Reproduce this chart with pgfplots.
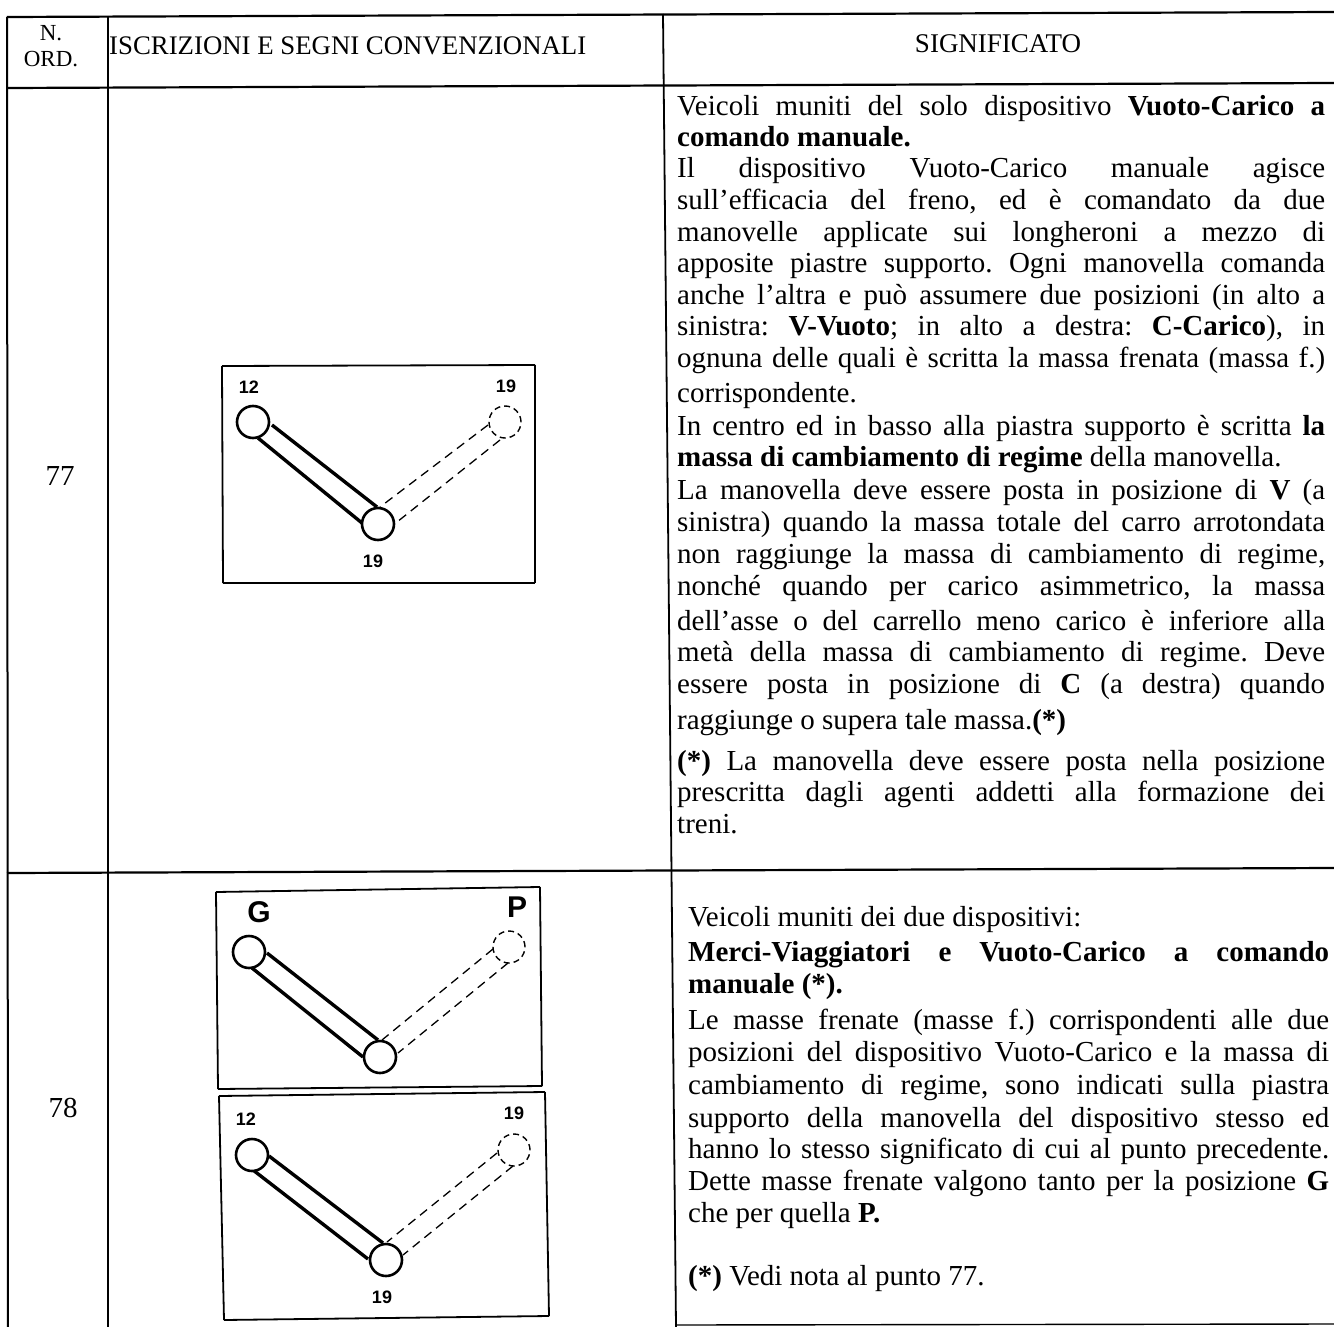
\documentclass[border=0pt]{standalone}
\usepackage{pgfplots}
\pgfplotsset{compat=1.18}
\usepackage{fontspec}
\setmainfont{Liberation Serif}
\newfontfamily\hv{Liberation Sans}
\frenchspacing
\newcommand{\ap}{\char39 }
\newcommand{\body}{\frenchspacing\fontsize{29}{32}\selectfont}
\newcommand{\JL}[4]{\node[anchor=base west,inner sep=0pt] at (axis cs:#1,#2) {\body\makebox[#3pt][s]{#4}};}
\newcommand{\PL}[3]{\node[anchor=base west,inner sep=0pt] at (axis cs:#1,#2) {\body #3};}
\newcommand{\seg}[5]{\addplot[black,line width=#5pt,forget plot] coordinates {(#1,#2) (#3,#4)};}
\newcommand{\dseg}[4]{\addplot[black,line width=1.3pt,dash pattern=on 9pt off 6pt,forget plot] coordinates {(#1,#2) (#3,#4)};}
\newcommand{\ring}[2]{\addplot[only marks,mark=*,mark size=16pt,mark options={fill=white,draw=black,line width=2.6pt},forget plot] coordinates {(#1,#2)};}
\newcommand{\dring}[2]{\addplot[only marks,mark=*,mark size=16pt,mark options={fill=white,draw=black,line width=1.4pt,dash pattern=on 6pt off 4pt},forget plot] coordinates {(#1,#2)};}
\newcommand{\lab}[4]{\node[inner sep=0pt] at (axis cs:#1,#2) {\hv\bfseries\fontsize{#3}{#3}\selectfont #4};}
\begin{document}
\begin{tikzpicture}
\begin{axis}[hide axis,scale only axis,width=1334pt,height=1327pt,
 xmin=0,xmax=1334,ymin=0,ymax=1327,y dir=reverse]
\addplot[white,forget plot] coordinates {(0,0) (1334,1327)};
% table rules
\seg{7}{17}{1334}{12}{2.2}
\seg{7}{88}{1334}{83}{2.2}
\seg{7}{873}{1334}{868}{2.2}
\seg{676}{1325}{1334}{1324}{1.4}
\seg{7}{17}{8}{1327}{2}
\seg{108}{16}{108}{1327}{1.6}
\seg{663}{14}{676}{1327}{1.8}
% box 77
\seg{222}{366}{535}{365}{1.8}
\seg{535}{365}{535}{583}{1.8}
\seg{535}{583}{223}{583}{1.8}
\seg{223}{583}{222}{366}{1.8}
\seg{272}{425}{377}{507}{3.4}
\seg{258}{438}{362}{523}{3.4}
\dseg{488}{425}{380}{507}
\dseg{500}{440}{397}{522}
\ring{253}{422}
\ring{378}{524}
\dring{505}{422}
\lab{249}{387}{18}{12}
\lab{506}{386}{18}{19}
\lab{373}{561}{18}{19}
% box G/P
\seg{216}{892}{540}{887}{1.8}
\seg{540}{887}{542}{1086}{1.8}
\seg{542}{1086}{218}{1089}{1.8}
\seg{218}{1089}{216}{892}{1.8}
\seg{267}{953}{378}{1040}{3.4}
\seg{252}{968}{363}{1057}{3.4}
\dseg{493}{949}{382}{1040}
\dseg{508}{963}{398}{1053}
\ring{249}{952}
\ring{380}{1057}
\dring{509}{947}
\lab{259}{912}{30}{G}
\lab{517}{907}{30}{P}
% box 12/19
\seg{219}{1096}{545}{1092}{1.8}
\seg{545}{1092}{549}{1316}{1.8}
\seg{549}{1316}{224}{1320}{1.8}
\seg{224}{1320}{219}{1096}{1.8}
\seg{269}{1156}{383}{1243}{3.4}
\seg{253}{1170}{368}{1259}{3.4}
\dseg{497}{1153}{387}{1242}
\dseg{513}{1166}{403}{1255}
\ring{252}{1155}
\ring{386}{1260}
\dring{514}{1150}
\lab{246}{1119}{18}{12}
\lab{514}{1113}{18}{19}
\lab{382}{1297}{18}{19}
% header text
\node[inner sep=0pt] at (axis cs:51,33) {\fontsize{23}{23}\selectfont N.};
\node[inner sep=0pt] at (axis cs:51,59) {\fontsize{23}{23}\selectfont ORD.};
\node[anchor=base west,inner sep=0pt] at (axis cs:109,55) {\fontsize{26.8}{22}\selectfont ISCRIZIONI E SEGNI CONVENZIONALI};
\node[anchor=base,inner sep=0pt] at (axis cs:998,53) {\fontsize{27}{22}\selectfont SIGNIFICATO};
\node[inner sep=0pt] at (axis cs:60,476) {\body 77};
\node[inner sep=0pt] at (axis cs:63,1108) {\body 78};
% row 77
\JL{677}{116}{648}{Veicoli muniti del solo dispositivo \textbf{Vuoto-Carico a}}
\PL{677}{147}{\textbf{comando manuale.}}
\JL{677}{178}{648}{Il dispositivo Vuoto-Carico manuale agisce}
\JL{677}{209}{648}{sull\ap efficacia del freno, ed è comandato da due}
\JL{677}{241}{648}{manovelle applicate sui longheroni a mezzo di}
\JL{677}{272}{648}{apposite piastre supporto. Ogni manovella comanda}
\JL{677}{304}{648}{anche l\ap altra e può assumere due posizioni (in alto a}
\JL{677}{335}{648}{sinistra: \textbf{V-Vuoto}; in alto a destra: \textbf{C-Carico}), in}
\JL{677}{367}{648}{ognuna delle quali è scritta la massa frenata (massa f.)}
\PL{677}{402}{corrispondente.}
\JL{677}{435}{648}{In centro ed in basso alla piastra supporto è scritta \textbf{la}}
\PL{677}{466}{\textbf{massa di cambiamento di regime} della manovella.}
\JL{677}{499}{648}{La manovella deve essere posta in posizione di \textbf{V} (a}
\JL{677}{531}{648}{sinistra) quando la massa totale del carro arrotondata}
\JL{677}{563}{648}{non raggiunge la massa di cambiamento di regime,}
\JL{677}{595}{648}{nonché quando per carico asimmetrico, la massa}
\JL{677}{630}{648}{dell\ap asse o del carrello meno carico è inferiore alla}
\JL{677}{661}{648}{metà della massa di cambiamento di regime. Deve}
\JL{677}{693}{648}{essere posta in posizione di \textbf{C} (a destra) quando}
\PL{677}{729}{raggiunge o supera tale massa.\textbf{(*)}}
\JL{677}{770}{648}{\textbf{(*)} La manovella deve essere posta nella posizione}
\JL{677}{801}{648}{prescritta dagli agenti addetti alla formazione dei}
\PL{677}{833}{treni.}
% row 78
\PL{688}{926}{Veicoli muniti dei due dispositivi:}
\JL{688}{961}{641}{\textbf{Merci-Viaggiatori e Vuoto-Carico a comando}}
\PL{688}{993}{\textbf{manuale (*).}}
\JL{688}{1029}{641}{Le masse frenate (masse f.) corrispondenti alle due}
\JL{688}{1061}{641}{posizioni del dispositivo Vuoto-Carico e la massa di}
\JL{688}{1094}{641}{cambiamento di regime, sono indicati sulla piastra}
\JL{688}{1127}{641}{supporto della manovella del dispositivo stesso ed}
\JL{688}{1158}{641}{hanno lo stesso significato di cui al punto precedente.}
\JL{688}{1190}{641}{Dette masse frenate valgono tanto per la posizione \textbf{G}}
\PL{688}{1222}{che per quella \textbf{P.}}
\PL{688}{1285}{\textbf{(*)} Vedi nota al punto 77.}
\end{axis}
\end{tikzpicture}
\end{document}
